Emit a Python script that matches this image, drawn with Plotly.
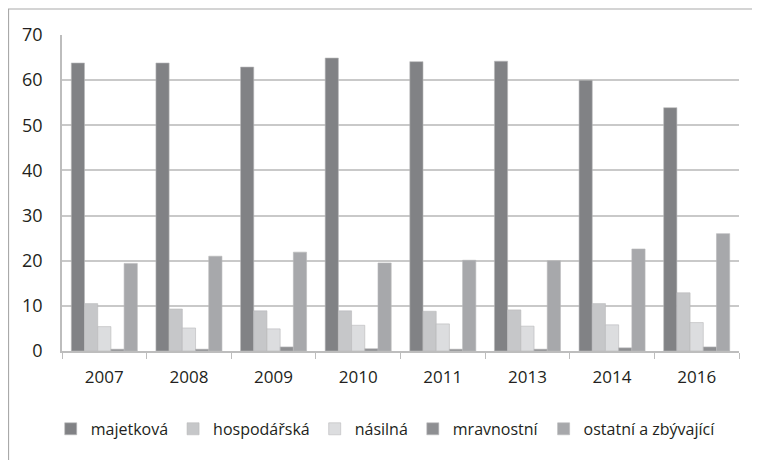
import plotly.graph_objects as go

years = ["2007", "2008", "2009", "2010", "2011", "2013", "2014", "2016"]

majetkova = [63.8, 63.8, 62.9, 64.9, 64.1, 64.2, 60.0, 53.9]
hospodarska = [10.5, 9.3, 8.9, 8.9, 8.8, 9.1, 10.5, 12.9]
nasilna = [5.4, 5.1, 4.9, 5.7, 6.0, 5.5, 5.8, 6.3]
mravnostni = [0.4, 0.4, 0.9, 0.5, 0.4, 0.4, 0.7, 0.9]
ostatni = [19.4, 21.0, 21.9, 19.5, 20.1, 20.0, 22.6, 26.0]

series = [
    ("majetková", majetkova, "#818285"),
    ("hospodářská", hospodarska, "#c6c7c9"),
    ("násilná", nasilna, "#dcdddf"),
    ("mravnostní", mravnostni, "#8e8f92"),
    ("ostatní a zbývající", ostatni, "#a7a8ab"),
]

fig = go.Figure()
for name, vals, color in series:
    fig.add_trace(go.Bar(
        x=years, y=vals, name=name,
        marker=dict(color=color, line=dict(color="#b8b9bb", width=0.6)),
    ))

FONT = "Open Sans"
TXT = "#231f20"

# the page body adds an 8px offset, margins below account for it
fig.update_layout(
    width=760, height=460,
    barmode="group", bargap=0.22, bargroupgap=0,
    plot_bgcolor="white", paper_bgcolor="white",
    margin=dict(l=54, r=29, t=27, b=117, autoexpand=False),
    font=dict(family=FONT, color=TXT),
    showlegend=True,
    legend=dict(
        orientation="h", xref="container", x=0.497, xanchor="center",
        yref="container", y=0.085, yanchor="middle",
        font=dict(size=16, family=FONT, color=TXT),
        itemwidth=30, tracegroupgap=0,
    ),
    xaxis=dict(
        showline=True, linecolor="#bdbdbd", linewidth=1.5,
        ticks="outside", tickson="boundaries", ticklen=6, tickcolor="#bdbdbd",
        tickfont=dict(size=17, family=FONT, color=TXT),
        ticklabelstandoff=10,
        showgrid=False,
    ),
    yaxis=dict(
        range=[0, 70], dtick=10,
        showline=True, linecolor="#bdbdbd", linewidth=1.5,
        showgrid=True, gridcolor="#c9c9c9", gridwidth=1.5,
        zeroline=False,
        tickfont=dict(size=18, family=FONT, color=TXT),
        ticks="", ticklabelstandoff=14,
    ),
    shapes=[dict(
        type="rect", xref="paper", yref="paper",
        x0=-0.079, x1=1.2, y0=-0.6, y1=1.0823,
        line=dict(color="#a9a9a9", width=1.2), layer="below",
    )],
)

fig.write_html("out.html")
